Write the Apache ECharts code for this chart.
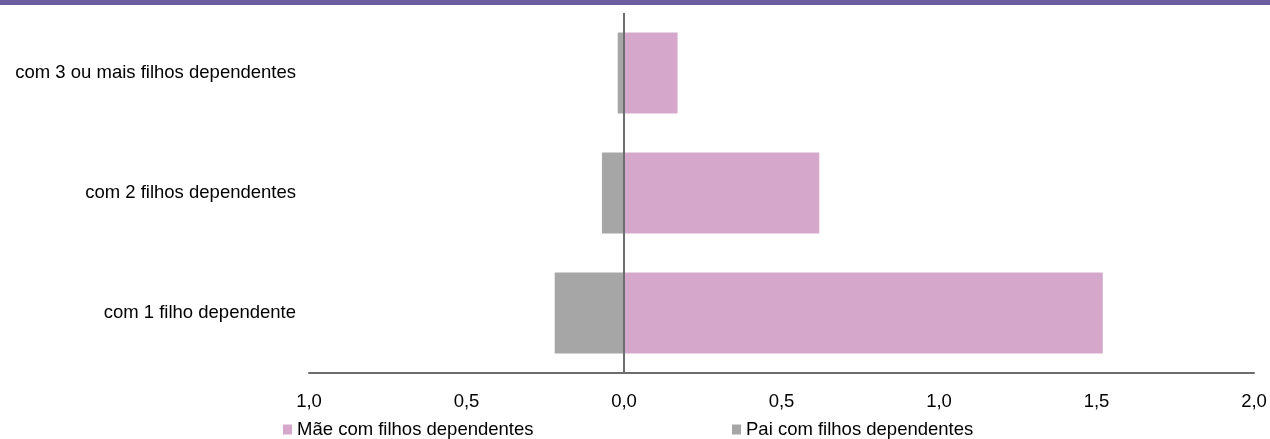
<!DOCTYPE html>
<html>
<head>
<meta charset="utf-8">
<script src="https://cdn.jsdelivr.net/npm/echarts@6/dist/echarts.min.js"></script>
<style>
  html, body { margin: 0; padding: 0; background: #fff; }
  #chart { width: 1270px; height: 439px; }
</style>
</head>
<body>
<div id="chart"></div>
<script>
// Categories, bottom to top
const categories = [
  'com 1 filho dependente',
  'com 2 filhos dependentes',
  'com 3 ou mais filhos dependentes'
];
// Mothers plotted to the right, fathers to the left (negative)
const maeValues = [1.52, 0.62, 0.17];
const paiValues = [-0.22, -0.07, -0.02];
const seriesNames = ['Mãe com filhos dependentes', 'Pai com filhos dependentes'];
const xTicks = [-1.0, -0.5, 0.0, 0.5, 1.0, 1.5, 2.0];

const FONT = '"Liberation Sans", Arial, sans-serif';
const FS = 18.5;
const chart = echarts.init(document.getElementById('chart'));

chart.setOption({
  animation: false,
  textStyle: { fontFamily: FONT },
  graphic: [
    { type: 'rect', left: 0, top: 0, shape: { width: 1270, height: 5 }, style: { fill: '#6c5f9f' }, z: 10 }
  ],
  grid: { left: 309, right: 16, top: 13, bottom: 66, containLabel: false },
  legend: [
    {
      data: [seriesNames[0]], left: 283, top: 420, padding: 0,
      icon: 'rect', itemWidth: 9, itemHeight: 10,
      textStyle: { fontSize: FS, color: '#000', fontFamily: FONT }
    },
    {
      data: [seriesNames[1]], left: 732, top: 420, padding: 0,
      icon: 'rect', itemWidth: 9, itemHeight: 10,
      textStyle: { fontSize: FS, color: '#000', fontFamily: FONT }
    }
  ],
  xAxis: {
    type: 'value',
    min: xTicks[0], max: xTicks[xTicks.length - 1], interval: 0.5,
    axisLine: { show: true, onZero: false, lineStyle: { color: '#6d6d6d', width: 2 } },
    axisTick: { show: false },
    splitLine: { show: false },
    axisLabel: {
      margin: 19, fontSize: FS, color: '#000', fontFamily: FONT,
      formatter: v => Math.abs(v).toFixed(1).replace('.', ',')
    }
  },
  yAxis: {
    type: 'category',
    data: categories,
    axisLine: { show: false },
    axisTick: { show: false },
    axisLabel: { margin: 13, fontSize: FS, color: '#000', fontFamily: FONT }
  },
  series: [
    {
      name: seriesNames[0], type: 'bar', stack: 'total',
      data: maeValues, barCategoryGap: '32.5%',
      itemStyle: { color: '#d5a8cb' }
    },
    {
      name: seriesNames[1], type: 'bar', stack: 'total',
      data: paiValues, barCategoryGap: '32.5%',
      itemStyle: { color: '#a6a6a6' },
      markLine: {
        silent: true, symbol: 'none', label: { show: false },
        lineStyle: { color: '#6d6d6d', width: 2, type: 'solid' },
        data: [{ xAxis: 0 }]
      }
    }
  ]
});
</script>
</body>
</html>
